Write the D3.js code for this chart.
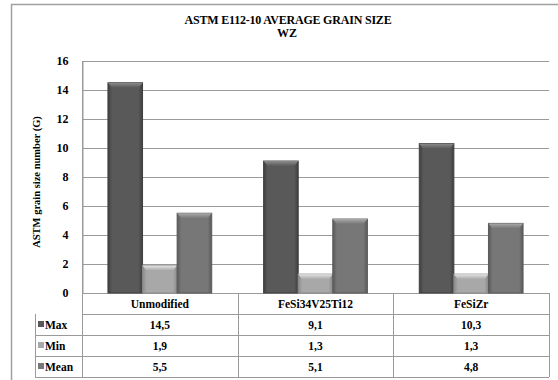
<html lang="en">
<head>
<meta charset="utf-8">
<style type="text/css">
    body { margin: 0; background: #fff; }
    svg text { font-family: "Liberation Serif", "DejaVu Serif", serif !important; font-weight: bold; fill: #000; }
    .grid line { stroke: #9a9a9a; stroke-width: 1px; }
    .tbl { stroke: #9a9a9a; stroke-width: 1px; fill: none; }
</style>
</head>
<body>
<svg width="558" height="380"></svg>

<script src="https://cdnjs.cloudflare.com/ajax/libs/d3/7.8.5/d3.min.js"></script>
<script type="text/javascript">
    // data
    var categories = ["Unmodified", "FeSi34V25Ti12", "FeSiZr"];
    var series = ["Max", "Min", "Mean"];
    var maxVals = [14.5, 9.1, 10.3];
    var minVals = [1.9, 1.3, 1.3];
    var meanVals = [5.5, 5.1, 4.8];
    var yTicks = [0, 2, 4, 6, 8, 10, 12, 14, 16];

    var values = { Max: maxVals, Min: minVals, Mean: meanVals };
    var colors = {
        Max:  { base: "#595959", dark: "#3f3f3f", light: "#8c8c8c" },
        Min:  { base: "#a8a8a8", dark: "#8a8a8a", light: "#e6e6e6" },
        Mean: { base: "#777777", dark: "#5a5a5a", light: "#aaaaaa" }
    };

    var svg = d3.select("svg"),
        plotL = 82, plotR = 549, plotT = 61, plotB = 293,
        rowH = 21;

    // outer chart border (runs off the picture right and bottom)
    svg.append("rect")
        .attr("x", 11.5).attr("y", 4.5)
        .attr("width", 600).attr("height", 420)
        .attr("fill", "none").attr("stroke", "#a0a0a0").attr("stroke-width", 1.5);

    // gradients for the bevelled bars
    var defs = svg.append("defs");
    series.forEach(function (s) {
        var c = colors[s];
        var g = defs.append("linearGradient").attr("id", "grad" + s)
            .attr("x1", 0).attr("x2", 1).attr("y1", 0).attr("y2", 0);
        g.append("stop").attr("offset", "0%").attr("stop-color", c.dark);
        g.append("stop").attr("offset", "12%").attr("stop-color", c.base);
        g.append("stop").attr("offset", "88%").attr("stop-color", c.base);
        g.append("stop").attr("offset", "100%").attr("stop-color", c.dark);
        var t = defs.append("linearGradient").attr("id", "top" + s)
            .attr("x1", 0).attr("x2", 0).attr("y1", 0).attr("y2", 1);
        t.append("stop").attr("offset", "0%").attr("stop-color", c.light);
        t.append("stop").attr("offset", "100%").attr("stop-color", c.base);
    });

    var y = d3.scaleLinear().domain([0, 16]).range([plotB, plotT]);
    var x = d3.scaleBand().domain(categories).range([plotL, plotR]).padding(0);
    var xs = d3.scaleBand().domain(series).range([0, x.bandwidth()])
        .paddingInner(0).paddingOuter(0.75);

    // title
    svg.append("text").attr("x", 288).attr("y", 24).attr("text-anchor", "middle")
        .style("font-size", "12px").style("letter-spacing", "-0.2px")
        .text("ASTM  E112-10  AVERAGE GRAIN SIZE");
    svg.append("text").attr("x", 287).attr("y", 37).attr("text-anchor", "middle")
        .style("font-size", "12px").text("WZ");

    // gridlines
    svg.append("g").attr("class", "grid")
        .selectAll("line").data(yTicks).enter().append("line")
        .attr("x1", plotL).attr("x2", plotR)
        .attr("y1", function (d) { return Math.round(y(d)) + 0.5; })
        .attr("y2", function (d) { return Math.round(y(d)) + 0.5; });

    // y axis
    var yAxis = svg.append("g").attr("transform", "translate(" + (plotL + 0.5) + ",0)")
        .call(d3.axisLeft(y).tickValues(yTicks).tickSize(0).tickPadding(14));
    yAxis.select(".domain").attr("stroke", "#9a9a9a");
    yAxis.selectAll("text").style("font-size", "12px");

    svg.append("text")
        .attr("transform", "translate(40," + 182 + ") rotate(-90)")
        .attr("text-anchor", "middle").style("font-size", "10.5px")
        .text("ASTM grain size number (G)");

    // bars
    series.forEach(function (s) {
        var g = svg.append("g");
        var bars = g.selectAll("g").data(categories).enter().append("g")
            .attr("transform", function (d) { return "translate(" + (x(d) + xs(s)) + ",0)"; });
        bars.append("rect")
            .attr("x", 0)
            .attr("y", function (d, i) { return y(values[s][i]); })
            .attr("width", xs.bandwidth())
            .attr("height", function (d, i) { return y(0) - y(values[s][i]); })
            .attr("fill", "url(#grad" + s + ")")
            .attr("stroke", colors[s].dark).attr("stroke-width", 1);
        bars.append("path")
            .attr("d", function (d, i) {
                var w = xs.bandwidth(), t = y(values[s][i]);
                return "M0," + t + " L" + w + "," + t + " L" + (w - 4) + "," + (t + 5) +
                    " L4," + (t + 5) + " Z";
            })
            .attr("fill", "url(#top" + s + ")");
    });

    // data table
    var tbl = svg.append("g");
    var tableLeft = 35;
    tbl.append("line").attr("class", "tbl")
        .attr("x1", plotL).attr("x2", plotR)
        .attr("y1", plotB + rowH + 0.5).attr("y2", plotB + rowH + 0.5);
    series.forEach(function (s, r) {
        var yy = plotB + rowH * (r + 2) + 0.5;
        tbl.append("line").attr("class", "tbl")
            .attr("x1", tableLeft).attr("x2", plotR).attr("y1", yy).attr("y2", yy);
    });
    tbl.append("line").attr("class", "tbl")
        .attr("x1", tableLeft + 0.5).attr("x2", tableLeft + 0.5)
        .attr("y1", plotB + rowH).attr("y2", plotB + rowH * 4);
    var vlines = categories.map(function (d) { return x(d); }).concat([plotR]);
    tbl.selectAll(".vl").data(vlines).enter().append("line").attr("class", "tbl")
        .attr("x1", function (d) { return Math.round(d) + 0.5; })
        .attr("x2", function (d) { return Math.round(d) + 0.5; })
        .attr("y1", function (d, i) { return i === 0 ? plotT : plotB; })
        .attr("y2", plotB + rowH * 4);

    tbl.selectAll(".cat").data(categories).enter().append("text")
        .attr("x", function (d) { return x(d) + x.bandwidth() / 2; })
        .attr("y", plotB + 15).attr("text-anchor", "middle")
        .style("font-size", "11.5px").text(function (d) { return d; });

    series.forEach(function (s, r) {
        var base = plotB + rowH * (r + 1) + 15;
        tbl.append("rect").attr("x", tableLeft + 3).attr("y", base - 8)
            .attr("width", 6).attr("height", 6).attr("fill", colors[s].base);
        tbl.append("text").attr("x", tableLeft + 10).attr("y", base)
            .style("font-size", "11.5px").text(s);
        tbl.selectAll(".v" + s).data(categories).enter().append("text")
            .attr("x", function (d) { return x(d) + x.bandwidth() / 2; })
            .attr("y", base).attr("text-anchor", "middle")
            .style("font-size", "11.5px")
            .text(function (d, i) { return String(values[s][i]).replace(".", ","); });
    });
</script>
</body>
</html>
